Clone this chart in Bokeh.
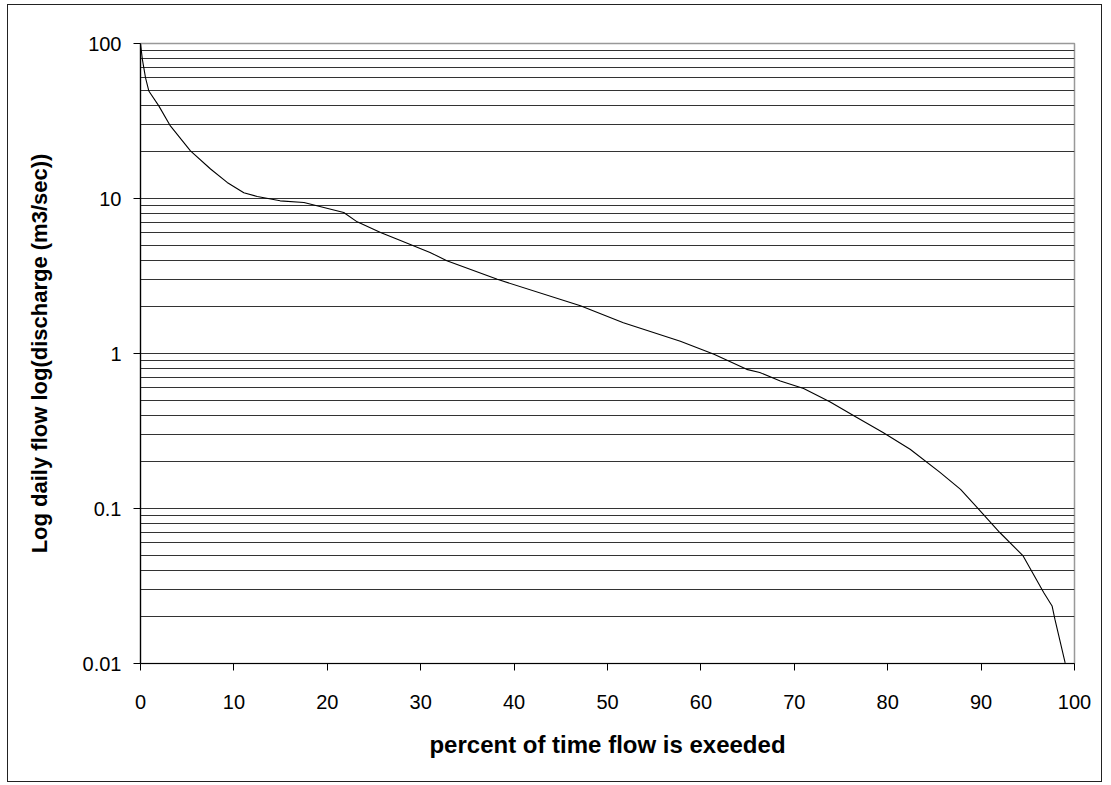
from bokeh.plotting import figure
from bokeh.models import FixedTicker, CustomJSTickFormatter, Range1d
from bokeh.embed import file_html
from bokeh.resources import INLINE

# Flow duration curve
pct_exceeded = [0, 0.2, 0.54, 0.89, 1.96, 3.2, 5.35, 7.5, 9.28, 11.06, 12.5, 14.95, 17.5,
                21.76, 23.2, 25.7, 27.5, 31.0, 32.8, 38.2, 47.1, 51.7, 57.8, 61.4, 64.9,
                66.3, 68.5, 71.0, 73.8, 76.7, 79.5, 82.4, 85.6, 87.8, 89.9, 92.0, 94.5,
                96.7, 97.6, 97.9, 99.0]
discharge = [100, 79, 60, 49.4, 39.6, 29.4, 20.3, 15.5, 12.7, 10.9, 10.3, 9.66, 9.42,
             8.13, 7.07, 6.04, 5.46, 4.49, 3.96, 3.01, 2.03, 1.58, 1.2, 0.99, 0.79,
             0.754, 0.665, 0.594, 0.488, 0.387, 0.309, 0.241, 0.171, 0.133, 0.0966, 0.07, 0.0494,
             0.0287, 0.0235, 0.0193, 0.0101]

x_ticks = [0, 10, 20, 30, 40, 50, 60, 70, 80, 90, 100]
y_ticks = [0.01, 0.1, 1, 10, 100]
y_grid = [m * d for d in [0.01, 0.1, 1, 10] for m in range(1, 10)] + [100]

FONT = "Liberation Sans"

p = figure(width=1095, height=778, y_axis_type="log",
           x_range=Range1d(0, 100), y_range=Range1d(0.01, 100),
           output_backend="svg", toolbar_location=None,
           min_border_left=132, min_border_right=29, min_border_top=38, min_border_bottom=120)
p.margin = (4, 0, 0, 7)
p.styles = {"border": "1.5px solid #222"}
p.background_fill_color = "white"
p.outline_line_color = "#999999"
p.outline_line_width = 1.5

p.line(pct_exceeded, discharge, line_color="black", line_width=1.1)

p.xgrid.visible = False
p.ygrid.ticker = FixedTicker(ticks=y_grid)
p.ygrid.grid_line_color = "#333333"
p.ygrid.grid_line_width = 1.2

p.xaxis.ticker = FixedTicker(ticks=x_ticks)
p.yaxis.ticker = FixedTicker(ticks=y_ticks, minor_ticks=[])
p.yaxis.formatter = CustomJSTickFormatter(code="return tick.toString();")

for ax in (p.xaxis[0], p.yaxis[0]):
    ax.axis_line_color = "black"
    ax.axis_line_width = 1.2
    ax.major_tick_line_color = "black"
    ax.major_tick_in = 0
    ax.major_tick_out = 7
    ax.minor_tick_line_color = None
    ax.major_label_text_font = FONT
    ax.major_label_text_font_size = "20px"
    ax.major_label_text_color = "black"
    ax.axis_label_text_font = FONT
    ax.axis_label_text_font_size = "22px"
    ax.axis_label_text_font_style = "bold"
    ax.axis_label_text_color = "black"

p.xaxis.axis_label_text_font_size = "24px"
p.xaxis.axis_label = "percent of time flow is exeeded"
p.yaxis.axis_label = "Log daily flow log(discharge (m3/sec))"
p.xaxis.major_label_standoff = 24
p.xaxis.axis_label_standoff = 19
p.yaxis.major_label_standoff = 12
p.yaxis.axis_label_standoff = 28

open("out.html", "w").write(file_html(p, INLINE))
